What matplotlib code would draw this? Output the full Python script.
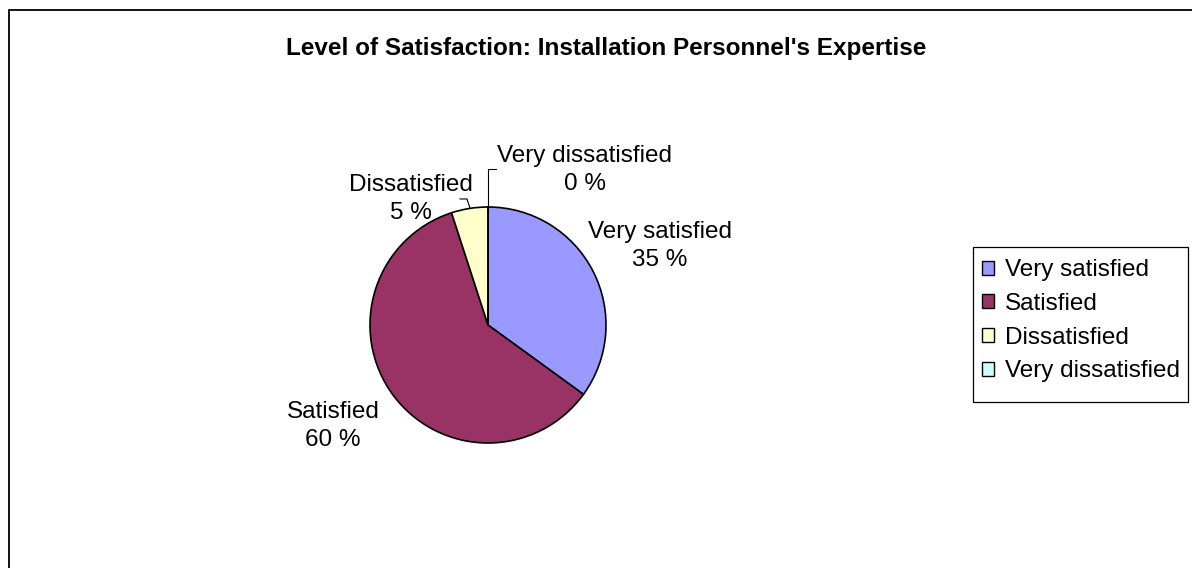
import matplotlib
matplotlib.use("Agg")
import matplotlib.pyplot as plt
from matplotlib.patches import Rectangle, Patch

categories = ["Very satisfied", "Satisfied", "Dissatisfied", "Very dissatisfied"]
values = [35, 60, 5, 0]
colors = ["#9999FF", "#993366", "#FFFFCC", "#CCFFFF"]
title = "Level of Satisfaction: Installation Personnel's Expertise"

W, H = 1192, 568
fig = plt.figure(figsize=(W / 100, H / 100), dpi=100)
plt.rcParams['font.family'] = ['Liberation Sans', 'DejaVu Sans']

# outer chart border (only left and top visible)
fig.patches.append(Rectangle((9 / W, -0.1), 1.2, 1.1 - 10 / H, transform=fig.transFigure,
                             fill=False, edgecolor="black", linewidth=1.3))

cx, cy, r = 488, 325, 118
ax = fig.add_axes([0, 0, 1, 1])

wedges, _ = ax.pie(values, colors=colors, startangle=90, counterclock=False, radius=1,
                   wedgeprops=dict(edgecolor="black", linewidth=1.2))
ax.set_aspect("auto")
ax.set_xlim((0 - cx) / r, (W - cx) / r)
ax.set_ylim((cy - H) / r, cy / r)
ax.axis("off")

fs = 17.5
label_pos = [(1.458, 0.669), (-1.314, -0.856), (-0.653, 1.068), (0.822, 1.314)]
for cat, v, (lx, ly) in zip(categories, values, label_pos):
    ax.text(lx, ly, f"{cat}\n{v} %", ha="center", va="center", fontsize=fs,
            linespacing=1.35)

# leader lines
ax.plot([0, 0, 0.068], [1.0, 1.32, 1.32], color="black", lw=0.8)
ax.plot([-0.153, -0.178, -0.237], [0.992, 1.068, 1.068], color="black", lw=0.8)

fig.text(606 / W, 1 - 48 / H, title, ha="center", va="center", fontsize=17.5,
         fontweight="bold")

# legend frame
fig.patches.append(Rectangle((973 / W, 1 - 402 / H), (1188 - 973) / W, 155 / H,
                             transform=fig.transFigure, fill=False,
                             edgecolor="black", linewidth=0.9))
handles = [Patch(facecolor=c, edgecolor="black", linewidth=1.0) for c in colors]
leg = fig.legend(handles, categories, loc="upper left",
                 bbox_to_anchor=(975 / W, 1 - 252 / H), fontsize=fs,
                 frameon=False,
                 handlelength=0.5, handleheight=0.5, handletextpad=0.45,
                 borderpad=0.3, labelspacing=0.48, borderaxespad=0)

fig.savefig("out.png", dpi=100)
